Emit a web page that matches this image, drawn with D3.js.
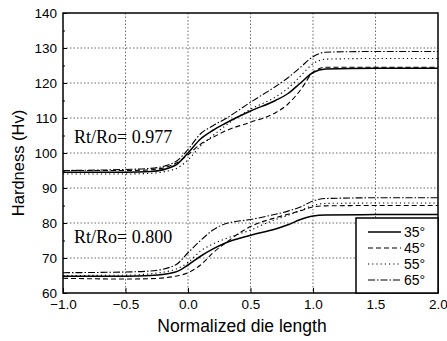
<!DOCTYPE html>
<html>
<head>
<meta charset="utf-8">
<script src="https://cdn.jsdelivr.net/npm/d3@7"></script>
<style>
body{margin:0;background:#fff;}
text{font-family:"Liberation Sans",Arial,sans-serif;}
</style>
</head>
<body>
<svg id="chart" width="447" height="341"></svg>
<script>
// x positions (normalized die length) shared by every curve
const xs=[-1,-0.5,-0.3,-0.1,0,0.1,0.2,0.3,0.5,0.7,0.8,0.9,1.0,1.1,1.5,2.0];
// Rt/Ro = 0.977
const hi35=[94.5,94.5,94.7,96.5,100,104,106.5,108.5,112,115,117,120,123,124,124.2,124.2];
const hi45=[95,95,95.2,97,99.5,102.5,104.5,106.3,108.8,111.5,114,118,123,124.5,124.5,124.5];
const hi55=[94,94,94.2,95.5,98,102,105,107.8,112.5,116,118.5,122,125.5,126.8,127,127];
const hi65=[95,95.3,95.6,97.5,101,105.5,107.8,109.8,114.5,119,121.5,124.5,127.5,128.8,129,129];
// Rt/Ro = 0.800
const lo35=[64.8,64.8,65,66,68,70.5,72.6,74.3,76.5,78.3,79.5,81,82,82.3,82.4,82.4];
const lo45=[64.2,64,64.1,64.8,65.8,68,71.5,74.3,79,81.5,82.5,83.5,84.6,84.9,85,85];
const lo55=[65,65.1,65.5,66.8,68.7,72,74,75.5,78,81,82.2,83.6,85,85.6,85.7,85.7];
const lo65=[65.8,66,66.3,68,71.5,75,78,79.8,81,82.5,83.4,84.6,86.3,87,87.2,87.2];
const labels=["35°","45°","55°","65°"];
const xticks=[-1,-0.5,0,0.5,1,1.5,2];
const yticks=[60,70,80,90,100,110,120,130,140];
const notes=[{t:"Rt/Ro= 0.977",v:102.9},{t:"Rt/Ro= 0.800",v:74.3}];

const dashes=[null,"5,3","1.2,3","7,2,1.5,2"];
const svg=d3.select("#chart");
const L=63,R=438,T=13,B=293;
const x=d3.scaleLinear().domain([-1,2]).range([L,R]);
const y=d3.scaleLinear().domain([60,140]).range([B,T]);

// grid
svg.append("g").selectAll("line").data(xticks.slice(1,-1)).join("line")
  .attr("x1",d=>x(d)).attr("x2",d=>x(d)).attr("y1",T).attr("y2",B)
  .attr("stroke","#444").attr("stroke-width",0.8).attr("stroke-dasharray","1.5,2");
svg.append("g").selectAll("line").data(yticks.slice(1,-1)).join("line")
  .attr("x1",L).attr("x2",R).attr("y1",d=>y(d)).attr("y2",d=>y(d))
  .attr("stroke","#444").attr("stroke-width",0.8).attr("stroke-dasharray","1.5,2");

// axes
const ya=svg.append("g").attr("transform","translate("+L+",0)")
  .call(d3.axisLeft(y).tickValues(yticks).tickSize(-4).tickPadding(6).tickFormat(d3.format("d")));
const xa=svg.append("g").attr("transform","translate(0,"+B+")")
  .call(d3.axisBottom(x).tickValues(xticks).tickSize(-5).tickPadding(5).tickFormat(d3.format(".1f")));
svg.append("g").attr("transform","translate("+L+",0)")
  .call(d3.axisLeft(y).ticks(16).tickSize(-2).tickFormat(""))
  .call(g=>g.select(".domain").remove());
[ya,xa].forEach(g=>{g.select(".domain").remove();g.selectAll("text").style("font-size","13.5px").style("fill","#000");});
xa.selectAll("text").attr("dy","0.85em");

// curves
const line=d3.line().x((d,i)=>x(xs[i])).y(d=>y(d)).curve(d3.curveMonotoneX);
[hi35,hi45,hi55,hi65,lo35,lo45,lo55,lo65].forEach((s,i)=>{
  svg.append("path").attr("d",line(s)).attr("fill","none").attr("stroke","#000")
    .attr("stroke-width",i%4===0?1.5:1.1).attr("stroke-dasharray",dashes[i%4]);
});

// frame
svg.append("rect").attr("x",L).attr("y",T).attr("width",R-L).attr("height",B-T)
  .attr("fill","none").attr("stroke","#000").attr("stroke-width",1.5);

// annotations
svg.selectAll(".note").data(notes).join("text").attr("class","note")
  .attr("x",74).attr("y",d=>y(d.v)).text(d=>d.t)
  .style("font-family","'Liberation Serif','Times New Roman',serif").style("font-size","18px");

// legend
const lg=svg.append("g");
lg.append("rect").attr("x",356).attr("y",218).attr("width",R-356).attr("height",B-218)
  .attr("fill","#fff").attr("stroke","#000").attr("stroke-width",1.5);
labels.forEach((t,i)=>{
  const ly=232+i*16;
  lg.append("line").attr("x1",368).attr("x2",401).attr("y1",ly).attr("y2",ly)
    .attr("stroke","#000").attr("stroke-width",i===0?1.5:1.1).attr("stroke-dasharray",dashes[i]);
  lg.append("text").attr("x",404).attr("y",ly).attr("dy","0.35em").text(t).style("font-size","14px");
});

// axis titles
svg.append("text").attr("x",242).attr("y",332).attr("text-anchor","middle")
  .text("Normalized die length").style("font-size","17.5px");
svg.append("text").attr("transform","translate(24,163) rotate(-90)").attr("text-anchor","middle")
  .text("Hardness (Hv)").style("font-size","16.5px");
</script>
</body>
</html>
